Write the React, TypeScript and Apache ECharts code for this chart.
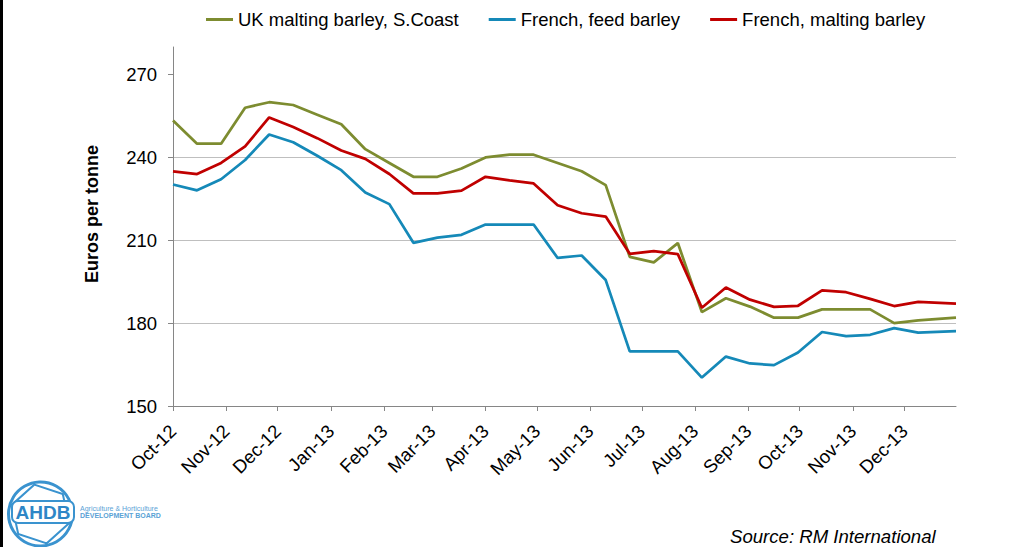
import React, { useEffect, useRef } from "react";
import * as echarts from "echarts";

const DATES = [
  "2012-10-01", "2012-10-15", "2012-10-29", "2012-11-12", "2012-11-26", "2012-12-10", "2012-12-24",
  "2013-01-07", "2013-01-21", "2013-02-04", "2013-02-18", "2013-03-04", "2013-03-18", "2013-04-01",
  "2013-04-15", "2013-04-29", "2013-05-13", "2013-05-27", "2013-06-10", "2013-06-24", "2013-07-08",
  "2013-07-22", "2013-08-05", "2013-08-19", "2013-09-02", "2013-09-16", "2013-09-30", "2013-10-14",
  "2013-10-28", "2013-11-11", "2013-11-25", "2013-12-09", "2013-12-31",
];

const UK_MALTING = [
  253.4, 245, 245, 258, 260, 259, 255.5, 252, 243, 238, 233, 233, 236, 240, 241, 241, 238,
  235, 230, 204, 202, 209, 184, 189, 186, 182, 182, 185, 185, 185, 180, 181, 182,
];

const FRENCH_FEED = [
  230.2, 228.1, 232.1, 239.1, 248.3, 245.5, 240.6, 235.4, 227.3, 223.1, 209.1, 211, 212, 215.7,
  215.7, 215.7, 203.6, 204.5, 195.6, 169.8, 169.8, 169.8, 160.3, 167.9, 165.4, 164.8, 169.4,
  176.8, 175.3, 175.8, 178.2, 176.6, 177.1,
];

const FRENCH_MALTING = [
  235, 234, 238, 244, 254.5, 251, 247, 242.5, 239.5, 234, 227, 227, 228, 233, 231.7, 230.6,
  222.7, 219.8, 218.6, 205.1, 206.1, 205, 185.6, 192.9, 188.5, 185.9, 186.3, 191.9, 191.2,
  188.8, 186.2, 187.7, 187.1,
];

const MONTH_TICKS = [
  "2012-10-01", "2012-11-01", "2012-12-01", "2013-01-01", "2013-02-01", "2013-03-01", "2013-04-01",
  "2013-05-01", "2013-06-01", "2013-07-01", "2013-08-01", "2013-09-01", "2013-10-01", "2013-11-01",
  "2013-12-01",
];

const Y_TICKS = [150, 180, 210, 240, 270];
const MONTH_NAMES = ["Jan", "Feb", "Mar", "Apr", "May", "Jun", "Jul", "Aug", "Sep", "Oct", "Nov", "Dec"];

const SERIES_NAMES = ["UK malting barley, S.Coast", "French, feed barley", "French, malting barley"];
const COLORS = ["#7D8C30", "#1589B8", "#C00000"];

const X_MIN = "2012-10-01";
const X_MAX = "2013-12-31";
const Y_MIN = 150;
const Y_MAX = 280;

function ts(d: string): number {
  const [y, m, day] = d.split("-").map(Number);
  return Date.UTC(y, m - 1, day);
}

function fmt(v: number): string {
  const d = new Date(v);
  const yy = String(d.getUTCFullYear() % 100).padStart(2, "0");
  return MONTH_NAMES[d.getUTCMonth()] + "-" + yy;
}

const FONT = "'Liberation Sans', Arial, sans-serif";
const FS = 18.5;

export default function App() {
  const ref = useRef<HTMLDivElement>(null);

  useEffect(() => {
    if (!ref.current) return;
    const chart = echarts.init(ref.current, undefined, { renderer: "svg" });
    const toSeries = (vals: number[]) => DATES.map((d, i) => [ts(d), vals[i]]);
    const allVals = [UK_MALTING, FRENCH_FEED, FRENCH_MALTING];

    chart.setOption({
      animation: false,
      backgroundColor: "#ffffff",
      textStyle: { fontFamily: FONT },
      legend: {
        left: 206,
        top: 10,
        padding: 0,
        itemWidth: 27,
        itemHeight: 3,
        itemGap: 30,
        icon: "rect",
        textStyle: { fontSize: FS, color: "#000", fontFamily: FONT },
        data: SERIES_NAMES,
      },
      grid: { left: 173, right: 73, top: 47, bottom: 141, containLabel: false },
      xAxis: {
        type: "value",
        min: ts(X_MIN),
        max: ts(X_MAX),
        axisLine: { show: true, lineStyle: { color: "#868686", width: 1 } },
        axisTick: {
          show: true,
          inside: false,
          length: 5,
          lineStyle: { color: "#868686" },
          customValues: MONTH_TICKS.map(ts),
        },
        axisLabel: {
          rotate: 45,
          margin: 22,
          align: "right",
          verticalAlign: "middle",
          fontSize: FS,
          color: "#000",
          fontFamily: FONT,
          customValues: MONTH_TICKS.map(ts),
          formatter: (v: number) => fmt(v),
        },
        splitLine: { show: false },
      },
      yAxis: {
        type: "value",
        min: Y_MIN,
        max: Y_MAX,
        interval: 30,
        axisLine: { show: true, lineStyle: { color: "#868686", width: 1 } },
        axisTick: {
          show: true,
          inside: false,
          length: 5,
          lineStyle: { color: "#868686" },
          customValues: Y_TICKS,
        },
        axisLabel: {
          margin: 16,
          fontSize: FS,
          color: "#000",
          fontFamily: FONT,
          customValues: Y_TICKS,
        },
        splitLine: {
          show: true,
          showMaxLine: false,
          showMinLine: false,
          lineStyle: { color: "#BFBFBF", width: 1 },
        },
      },
      series: SERIES_NAMES.map((name, i) => ({
        name,
        type: "line",
        data: toSeries(allVals[i]),
        showSymbol: false,
        symbol: "none",
        color: COLORS[i],
        itemStyle: { color: COLORS[i] },
        lineStyle: { color: COLORS[i], width: 2.75 },
        z: 3 + (i === 2 ? 1 : 0),
      })),
      graphic: [
        {
          type: "rect",
          left: 0,
          top: 0,
          shape: { x: 0, y: 0, width: 3, height: 547 },
          style: { fill: "#000" },
          silent: true,
        },
        {
          type: "text",
          x: 92,
          y: 214,
          rotation: Math.PI / 2,
          style: {
            text: "Euros per tonne",
            font: "bold 18px " + FONT,
            fill: "#000",
            align: "center",
            verticalAlign: "middle",
          },
          silent: true,
        },
        {
          type: "text",
          x: 730,
          y: 536,
          style: {
            text: "Source: RM International",
            font: "italic 18.6px " + FONT,
            fill: "#000",
            align: "left",
            verticalAlign: "middle",
          },
          silent: true,
        },
        {
          type: "group",
          silent: true,
          children: [
            {
              type: "circle",
              shape: { cx: 40.5, cy: 514, r: 32 },
              style: { fill: "none", stroke: "#3A93CF", lineWidth: 3 },
            },
            {
              type: "polygon",
              shape: {
                points: [0, 1, 2, 3, 4, 5].map((k) => {
                  const a = (Math.PI / 3) * k + Math.PI / 10;
                  return [40.5 + 30 * Math.cos(a), 514 + 30 * Math.sin(a)];
                }),
              },
              style: { fill: "none", stroke: "#3A93CF", lineWidth: 2 },
            },
            {
              type: "rect",
              shape: { x: 12, y: 501, width: 62, height: 22, r: 6 },
              style: { fill: "#fff", stroke: "#3A93CF", lineWidth: 2 },
            },
            {
              type: "text",
              x: 43,
              y: 512.5,
              style: {
                text: "AHDB",
                font: "bold 19px " + FONT,
                fill: "#2E86C6",
                align: "center",
                verticalAlign: "middle",
              },
            },
            {
              type: "text",
              x: 80,
              y: 508,
              style: {
                text: "Agriculture & Horticulture",
                font: "7px " + FONT,
                fill: "#5AA2D6",
                align: "left",
                verticalAlign: "middle",
              },
            },
            {
              type: "text",
              x: 80,
              y: 515.5,
              style: {
                text: "DEVELOPMENT BOARD",
                font: "bold 7px " + FONT,
                fill: "#5AA2D6",
                align: "left",
                verticalAlign: "middle",
              },
            },
          ],
        },
      ],
    });

    return () => chart.dispose();
  }, []);

  return (
    <div
      ref={ref}
      style={{ position: "fixed", left: 0, top: 0, width: 1029, height: 547, background: "#fff" }}
    />
  );
}
